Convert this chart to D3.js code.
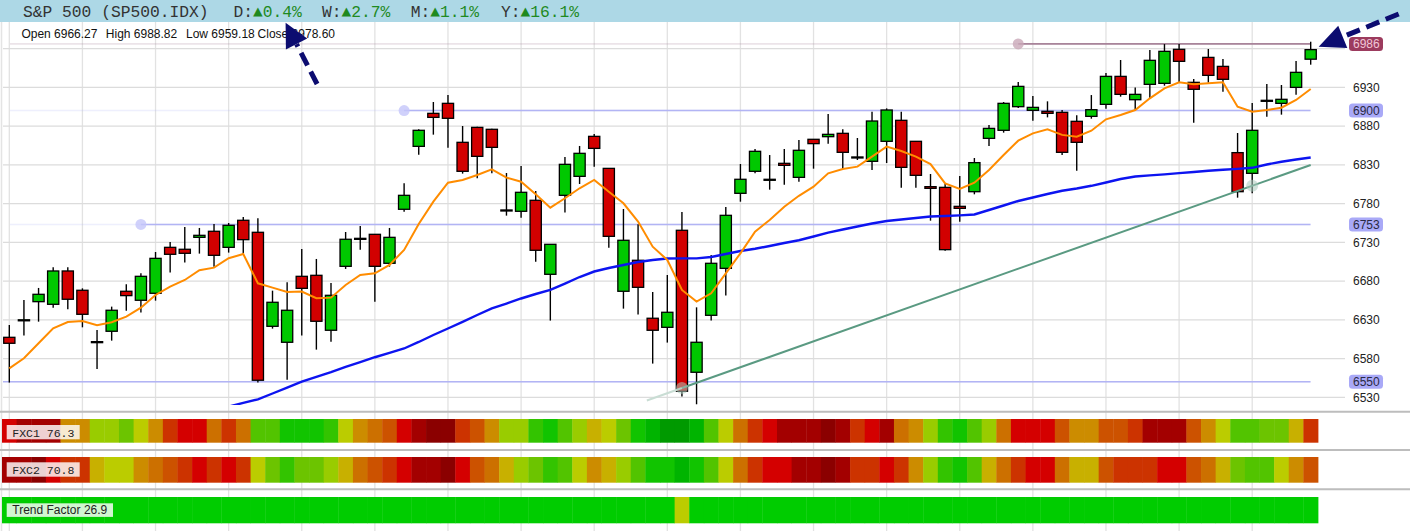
<!DOCTYPE html>
<html><head><meta charset="utf-8">
<script src="https://cdn.jsdelivr.net/npm/d3@7"></script>
<style>
html,body{margin:0;padding:0;background:#fff;}
svg{display:block;}
</style></head><body>
<svg id="chart" width="1410" height="531"></svg>
<script>
// ---------------- DATA ----------------
const opens  = [6607.4,6629.6,6653.4,6650,6693,6668.1,6601.8,6615.2,6666.8,6655.2,
6664.2,6723.5,6721,6736.4,6744.2,6723.5,6758.4,6742.9,6621.6,6601,
6686.1,6687.4,6616.5,6699,6735.1,6740.3,6702.9,6772.6,6853.8,6896.4,
6909.3,6859,6878.3,6875.8,6771.7,6770,6784.2,6688.7,6790.6,6815.1,
6866.7,6825.4,6666.8,6706.8,6632,6620.3,6745.5,6562.3,6635.8,6696.4,
6793.2,6821.6,6811.3,6831.9,6813.8,6862.9,6866.3,6870.6,6840.1,6834.5,
6860.3,6887.4,6860.3,6801.8,6800.9,6776.4,6795.3,6864.1,6874.5,6905,
6900.3,6899,6897.7,6886.1,6892.5,6908,6944.1,6914,6933.8,6935.1,
6979,6936.4,6968.6,6957,6845.7,6819,6913.2,6909.3,6929.9,6966.27];
const highs  = [6623.3,6655.6,6671.1,6697.7,6697.7,6670.6,6616.9,6647,6675.8,6690,
6717.5,6730.4,6749.8,6748.5,6753.6,6754.9,6762.7,6761,6667.6,6678.4,
6721.4,6708.5,6677.5,6743.3,6751,6740.8,6748.5,6806.1,6875.8,6911,
6920,6880.1,6879,6876.5,6819.4,6828.5,6796.2,6727.4,6840.1,6854.3,
6869.7,6825.4,6773,6753.2,6665.9,6687.8,6769.1,6646.1,6713.6,6775.6,
6831,6850.4,6842.6,6850.4,6862,6863.2,6895.5,6875.8,6864.6,6898.5,
6902.8,6898.5,6860.6,6818.1,6806.1,6815.6,6838.8,6881.3,6911,6936.8,
6918.8,6911.9,6900.7,6893.8,6920,6948.4,6965.2,6929.9,6978.1,6985.8,
6985.8,6940.7,6979.4,6966.5,6871,6909.7,6934.2,6933,6963.9,6988.82];
const lows   = [6549,6609.6,6627.6,6645.7,6643.6,6620.3,6566.6,6603.1,6641.8,6639.3,
6654.7,6690.9,6703.8,6715.4,6698.6,6716.7,6715,6549,6618.6,6552.8,
6609.6,6591.5,6601.8,6695.6,6720.5,6653.4,6698.6,6769.5,6843.1,6868.9,
6852.1,6818.6,6812.5,6819,6764.4,6761.8,6705,6629,6768.3,6805.2,
6827.6,6723.1,6644.4,6636.7,6573.5,6600.6,6530.9,6521,6629,6661.2,
6782.4,6819,6797.9,6804.4,6808.2,6825,6857.3,6824.6,6836.2,6823.3,
6832.3,6800.5,6800.5,6757.9,6719.2,6756.6,6791.9,6854.3,6871.5,6903.3,
6886.9,6891.2,6842.6,6822.4,6889.5,6902.4,6917.9,6900.7,6916.2,6932.1,
6936.8,6884.4,6936,6924.3,6787.6,6793.2,6892.1,6894.7,6920.5,6959.18];
const closes = [6599.7,6630,6662.9,6693,6656.5,6637.1,6601.6,6642.3,6661.2,6686.1,
6709.3,6714.5,6715.8,6739,6713.2,6751.9,6733.4,6552,6652.6,6642.3,
6670.6,6628.1,6661.6,6733.9,6735.1,6699,6736.4,6790.6,6874.5,6891.2,
6890,6821.6,6840.9,6852.5,6771.5,6794.5,6719.7,6727.4,6830.6,6844.8,
6851.2,6737.7,6732.6,6671.9,6616.5,6639.7,6537.8,6601,6702.9,6764.8,
6811.3,6847.4,6811.3,6829.3,6848.7,6857.3,6869.3,6846.1,6840.1,6886.5,
6900.7,6826.7,6816.4,6799.6,6720.5,6773.8,6832.8,6877,6909.3,6931.2,
6904.1,6896.4,6846.1,6859,6901.1,6944.1,6920.9,6920.9,6964.8,6976.4,
6963.5,6927.4,6945.4,6940.3,6795.3,6874.5,6913.2,6914.5,6949.3,6978.60];
// fast moving average (orange)
const maFast = [6567.4,6580.4,6599.7,6619,6627.2,6628.5,6622.9,6626.8,6634.1,6645.7,
6662,6672.8,6681.4,6693.9,6697.3,6709.4,6714.9,6677.1,6671.5,6665.9,
6666.4,6657.8,6658.6,6675,6687.8,6690,6700.8,6720.1,6753.6,6782.4,
6806.9,6810.4,6816.8,6824.2,6813.4,6808.2,6792,6774.7,6786.8,6799.7,
6810.4,6795.3,6780.3,6756.7,6724.4,6707.2,6668.5,6653.5,6664.2,6690,
6715.8,6743.8,6758.8,6776,6790,6801.8,6819,6824.6,6827.6,6840.5,
6853.4,6847.8,6840.5,6831,6806.1,6798.8,6806.9,6823.3,6842.6,6861.1,
6870.6,6875.8,6868.6,6866.3,6874,6888.7,6894.2,6900.7,6915.8,6928.6,
6936.4,6933.8,6935.1,6936.4,6905,6898.5,6900.7,6903.7,6913.6,6927.8];
// slow moving average (blue)
const maSlow = [null,null,null,null,null,null,null,null,null,null,
null,null,null,null,null,6518,6522.8,6527.4,6534.9,6542.6,
6550.1,6556.5,6562.6,6569.4,6575.5,6581.7,6587.4,6593,6601.4,6610.4,
6618.8,6627.4,6636.2,6644.8,6651,6657.5,6663.3,6668.5,6676.8,6685.2,
6692.3,6696.8,6700.7,6704.6,6707.1,6709.1,6709.3,6709.3,6711,6714.9,
6718.8,6721.7,6725.2,6729.1,6732.6,6737.5,6742.4,6746.5,6750.4,6754.3,
6757.5,6759.5,6761.4,6763.2,6764,6764.8,6765.9,6771.7,6777.5,6783.3,
6787.8,6792.3,6796.5,6799.4,6802.9,6807.2,6811.7,6814.9,6816.3,6817.7,
6819.3,6820.7,6822.3,6823.7,6824.8,6826.1,6830.4,6834,6836.8,6839.5];
// horizontal levels and the candle where each was anchored (null = off chart)
const levels      = [6986, 6900, 6753, 6550];
const levelAnchor = [69, 27, 9, null];
const levelKind   = ["res", "sup", "sup", "sup"];
// trend line anchors (candle index, price)
const trendIdx = [46, 85];
const trendVal = [6542, 6803];
// price axis ticks
const yTicks = [6530,6580,6630,6680,6730,6780,6830,6880,6930,6980];
// indicator strips: state codes (0 = strongest bearish ... 16 = strong bullish)
const fxc1 = [2,1,1,1,6,6,9,9,10,8, 6,3,2,2,5,3,5,11,11,13, 13,13,12,8,6,5,4,2,1,0,
0,3,4,6,9,9,12,13,11,9, 7,8,10,13,14,15,15,14,11,8, 5,3,2,1,1,1,0,1,3,2,
1,5,6,9,12,13,11,9,5,2, 2,2,4,6,6,4,4,3,1,1, 1,4,6,8,11,11,10,10,7,3];
const fxc2 = [1,1,0,2,3,3,7,8,8,6, 5,4,3,2,3,2,3,8,10,12, 10,10,9,7,5,4,3,2,1,1,
0,2,4,5,7,9,10,12,11,8, 6,7,9,11,13,13,14,13,11,8, 5,3,2,2,1,1,0,1,3,3,
2,3,6,9,12,13,11,7,5,3, 2,2,5,7,7,4,3,3,3,2, 2,4,5,7,10,11,11,8,6,4];
const trendFactor = [16,16,16,16,16,16,16,16,16,16, 16,16,16,16,16,16,16,16,16,16,
16,16,16,16,16,16,16,16,16,16, 16,16,16,16,16,16,16,16,16,16, 16,16,16,16,16,16,8,16,16,16,
16,16,16,16,16,16,16,16,16,16, 16,16,16,16,16,16,16,16,16,16, 16,16,16,16,16,16,16,16,16,16,
16,16,16,16,16,16,16,16,16,16];
const stripNames  = ["FXC1 76.3", "FXC2 70.8", "Trend Factor 26.9"];
const headerName  = "S&P 500 (SP500.IDX)";
const perfLabels  = ["D:", "W:", "M:", "Y:"];
const perfValues  = ["0.4%", "2.7%", "1.1%", "16.1%"];
const ohlcLabels  = ["Open", "High", "Low", "Close"];

// ---------------- CHART ----------------
const W = 1410, H = 531;
const svg = d3.select('#chart');
const idx = opens.map((_, i) => i);
const candles = idx.map(i => ({i, o: opens[i], h: highs[i], l: lows[i], c: closes[i]}));

const x = d3.scaleBand().domain(idx).range([2, 1318]).padding(0);
const cx = i => x(i) + x.bandwidth() / 2;
// continuous position for fractional candle offsets (trend-line extension)
const xc = d3.scaleLinear().domain([0, idx.length - 1]).range([cx(0), cx(idx.length - 1)]);
const y = d3.scaleLinear().domain([6530, 6930]).range([397.3, 87.3]);

const palette = ["#8b0000","#a30000","#d40000","#cc3300","#cc5200","#cc7000","#cc8c00",
  "#c8b000","#bbcc00","#99cc00","#6cc400","#52c400","#33c400","#11c400","#00b400","#009a00","#00cc00"];
const stateColor = d3.scaleOrdinal().domain(d3.range(palette.length)).range(palette);

// header band
svg.append('rect').attr('x',0).attr('y',0).attr('width',W).attr('height',22).attr('fill','#add8e6');
const hdr = svg.append('g').attr('font-family','"Liberation Mono", "DejaVu Sans Mono", monospace')
  .attr('font-size',16.3);
hdr.append('text').attr('x',23).attr('y',17).attr('fill','#333').text(headerName);
const perfX = [233.5, 322, 410.7, 500.9];
perfLabels.forEach((lab, k) => {
  hdr.append('text').attr('x', perfX[k]).attr('y',17).attr('fill','#333').text(lab);
  hdr.append('text').attr('x', perfX[k] + 19.5).attr('y',17).attr('fill','#1f8a1f')
    .text('\u25B2' + perfValues[k]);
});

// grid
const grid = svg.append('g');
grid.append('line').attr('x1',1.5).attr('x2',1.5).attr('y1',22).attr('y2',H)
  .attr('stroke','#e4e4e4').attr('stroke-width',1.5);
grid.selectAll('line.v').data(idx.filter(i => i % 5 === 0)).join('line')
  .attr('class','v').attr('x1', cx).attr('x2', cx).attr('y1', 22).attr('y2', H)
  .attr('stroke', '#e2e2e2').attr('stroke-width', 1.3);
grid.selectAll('line.h').data(yTicks).join('line')
  .attr('class','h').attr('x1', 3).attr('x2', 1345).attr('y1', d => y(d)).attr('y2', d => y(d))
  .attr('stroke', '#dcdcdc').attr('stroke-width', 1.3);

// OHLC readout
const last = candles[candles.length - 1];
const ohlcVals = [last.o, last.h, last.l, last.c];
const ohlcX = [21.4, 105.8, 186, 257.6];
const ohlcG = svg.append('g').attr('font-family','"Liberation Sans", Arial, sans-serif')
  .attr('font-size',12).attr('fill','#111');
ohlcLabels.forEach((lab, k) => {
  ohlcG.append('text').attr('x', ohlcX[k]).attr('y', 37.5).text(lab + ' ' + ohlcVals[k].toFixed(2));
});

// price panel
const defs = svg.append('defs');
defs.append('clipPath').attr('id','pclip').append('rect')
  .attr('x',0).attr('y',22).attr('width',1345).attr('height',383);
const panel = svg.append('g').attr('clip-path','url(#pclip)');

// level lines
const levelStroke = k => levelKind[k] === 'res' ? '#a8849a' : '#b2b4f4';
levels.forEach((lv, k) => {
  const yy = y(lv);
  const a = levelAnchor[k];
  const xs = a === null ? 3 : cx(a);
  panel.append('line').attr('x1', 10).attr('x2', 1310.5).attr('y1', yy).attr('y2', yy)
    .attr('stroke', levelStroke(k)).attr('stroke-opacity', 0.22).attr('stroke-width', 1.6);
  panel.append('line').attr('x1', xs).attr('x2', 1310.5).attr('y1', yy).attr('y2', yy)
    .attr('stroke', levelStroke(k)).attr('stroke-width', 1.6);
  if (a !== null) {
    panel.append('circle').attr('cx', xs).attr('cy', yy).attr('r', 5.5)
      .attr('fill', levelKind[k] === 'res' ? '#c9a7b8' : '#c4c6fa').attr('fill-opacity', 0.8);
  }
});

// candles
const cg = panel.append('g');
cg.selectAll('line.wick').data(candles).join('line').attr('class','wick')
  .attr('x1', d => cx(d.i)).attr('x2', d => cx(d.i))
  .attr('y1', d => y(d.h)).attr('y2', d => y(d.l))
  .attr('stroke', '#000').attr('stroke-width', 1.4);
cg.selectAll('rect.body').data(candles).join('rect').attr('class','body')
  .attr('x', d => cx(d.i) - 5.6).attr('width', 11.2)
  .attr('y', d => y(Math.max(d.o, d.c)))
  .attr('height', d => Math.max(1, Math.abs(y(d.o) - y(d.c))))
  .attr('fill', d => d.c >= d.o ? '#00c800' : '#d20000')
  .attr('stroke', '#000').attr('stroke-width', 1.3);

// trend line
const tSlope = (trendVal[1] - trendVal[0]) / (trendIdx[1] - trendIdx[0]);
const tAt = i => trendVal[0] + tSlope * (i - trendIdx[0]);
const lastI = idx[idx.length - 1];
const tStart = trendIdx[0] - 2.4;
panel.append('line').attr('x1', xc(tStart)).attr('y1', y(tAt(tStart)))
  .attr('x2', xc(trendIdx[0])).attr('y2', y(tAt(trendIdx[0])))
  .attr('stroke', '#c9ddd4').attr('stroke-width', 2);
panel.append('line').attr('x1', xc(trendIdx[0])).attr('y1', y(tAt(trendIdx[0])))
  .attr('x2', xc(lastI)).attr('y2', y(tAt(lastI)))
  .attr('stroke', '#5a9a82').attr('stroke-width', 2);
trendIdx.forEach((ti, k) => {
  panel.append('circle').attr('cx', cx(ti)).attr('cy', y(trendVal[k])).attr('r', 6)
    .attr('fill', '#a9cbbb').attr('fill-opacity', 0.55);
});

// moving averages
const lineGen = d3.line().defined(d => d.v !== null).x(d => cx(d.i)).y(d => y(d.v));
panel.append('path').datum(idx.map(i => ({i, v: maSlow[i]})))
  .attr('d', lineGen).attr('fill','none').attr('stroke','#0d14f0').attr('stroke-width',2.4);
panel.append('path').datum(idx.map(i => ({i, v: maFast[i]})))
  .attr('d', lineGen).attr('fill','none').attr('stroke','#ff8c00').attr('stroke-width',2);

// right axis labels
const axisG = svg.append('g').attr('transform','translate(1352,0)');
const yAxis = d3.axisRight(y).tickValues(yTicks).tickSize(0).tickPadding(1).tickFormat(d3.format('d'));
axisG.call(yAxis);
axisG.select('.domain').remove();
axisG.selectAll('text').attr('font-family','"Liberation Sans", Arial, sans-serif')
  .attr('font-size',12).attr('fill','#222')
  .style('display', d => levels.some(lv => Math.abs(y(lv) - y(d)) < 9) ? 'none' : null);
levels.forEach((lv, k) => {
  const g = svg.append('g').attr('transform', `translate(1349,${y(lv)})`);
  g.append('rect').attr('x',0).attr('y',-7).attr('width',34).attr('height',14).attr('rx',3.5)
    .attr('fill', levelKind[k] === 'res' ? '#9c3b5e' : '#a9a9f7');
  g.append('text').attr('x',4).attr('y',0).attr('dy','0.35em')
    .attr('font-family','"Liberation Sans", Arial, sans-serif').attr('font-size',12)
    .attr('fill', levelKind[k] === 'res' ? '#f1c6d6' : '#2a2a44').text(d3.format('d')(lv));
});

// indicator strips
const sepY = [411.7, 450, 489.3];
sepY.forEach(sy => svg.append('line').attr('x1',0).attr('x2',W).attr('y1',sy).attr('y2',sy)
  .attr('stroke','#bdbdbd').attr('stroke-width',2));
const strips = [
  {codes: fxc1, y0: 419, h: 23.7, box: [425, 14.3], tb: 436.6, mono: true, bw: 73},
  {codes: fxc2, y0: 457, h: 25.7, box: [462.3, 14.4], tb: 474, mono: true, bw: 73},
  {codes: trendFactor, y0: 497, h: 26.3, box: [503.3, 13.6], tb: 514.3, mono: false, bw: 106.3}
];
strips.forEach((s, k) => {
  const g = svg.append('g');
  g.selectAll('rect').data(idx).join('rect')
    .attr('x', i => x(i)).attr('width', x.bandwidth() + 0.4)
    .attr('y', s.y0).attr('height', s.h)
    .attr('fill', i => stateColor(s.codes[i]));
  g.append('rect').attr('x', 6.7).attr('y', s.box[0]).attr('width', s.bw).attr('height', s.box[1])
    .attr('fill', '#fff').attr('fill-opacity', 0.82);
  g.append('text').attr('x', 12.3).attr('y', s.tb)
    .attr('font-family', s.mono ? '"Liberation Mono", monospace' : '"Liberation Sans", Arial, sans-serif')
    .attr('font-size', s.mono ? 11.5 : 12).attr('fill', '#222').text(stripNames[k]);
});

// annotation arrows
function arrow(tip, tail, L, w) {
  const dx = tip[0] - tail[0], dy = tip[1] - tail[1];
  const len = Math.hypot(dx, dy), ux = dx / len, uy = dy / len;
  const bx = tip[0] - ux * L, by = tip[1] - uy * L;
  const g = svg.append('g');
  g.append('line').attr('x1', tail[0]).attr('y1', tail[1]).attr('x2', bx).attr('y2', by)
    .attr('stroke', '#0c0c70').attr('stroke-width', 5).attr('stroke-dasharray', '14,7');
  g.append('path').attr('d', `M${tip[0]},${tip[1]}L${bx - uy * w},${by + ux * w}L${bx + uy * w},${by - ux * w}Z`)
    .attr('fill', '#0c0c70');
}
arrow([ohlcX[3] + 28, 22.7], [ohlcX[3] + 59.5, 84], 24, 12);
arrow([cx(lastI) + 8, y(last.c) - 3], [cx(lastI) + 88, 14], 26, 12);
</script>
</body></html>
